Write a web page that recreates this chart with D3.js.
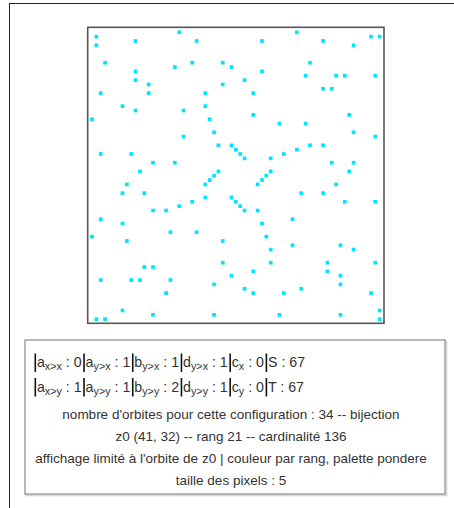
<!DOCTYPE html>
<html>
<head>
<meta charset="utf-8">
<script src="https://cdn.jsdelivr.net/npm/d3@7"></script>
<style>
  html, body { margin: 0; padding: 0; background: #fff; }
  svg { display: block; }
</style>
</head>
<body>
<script>
// ---- data ----
const gridSize = 67;            // S : 67, T : 67
const orbitCells = [
  [1,1],[1,3],[10,2],[20,0],[24,2],[3,7],[23,7],[30,7],[32,8],[19,8],[10,9],[10,11],[13,12],[30,12],
  [2,14],[13,14],[26,14],[7,17],[10,18],[21,18],[26,17],[0,20],[27,20],[28,23],[21,24],[29,26],[32,26],
  [33,27],[34,28],[2,28],[9,28],[14,30],[19,30],[11,32],[29,32],[28,33],[27,34],
  [47,0],[39,2],[53,2],[64,1],[66,1],[60,3],[50,7],[39,9],[49,10],[56,10],[58,10],[65,10],[35,11],
  [53,13],[55,13],[37,14],[37,19],[59,19],[43,21],[49,21],[60,23],[65,24],[50,26],[53,26],[47,27],
  [44,28],[41,29],[55,30],[60,30],[41,32],[59,32],[40,33],[39,34],[35,29],
  [26,35],[8,35],[7,37],[12,37],[26,38],[32,38],[33,39],[34,40],[23,39],[20,40],[14,41],[17,41],
  [2,43],[7,44],[18,46],[24,46],[0,47],[8,48],[30,48],[30,53],[12,54],[14,54],[2,57],[9,57],[11,57],
  [18,57],[32,56],[28,58],[17,60],[7,64],[14,65],[28,65],[1,66],[3,66],
  [38,35],[56,35],[48,37],[53,37],[35,41],[38,41],[58,39],[65,39],[39,44],[46,43],[40,47],[41,50],
  [46,49],[57,49],[60,50],[41,53],[54,53],[65,53],[37,55],[54,55],[57,56],[57,58],[35,59],[37,60],
  [44,60],[48,59],[64,60],[66,64],[43,65],[57,65],[66,66]
];
const paramRow1 = [["a","x>x","0"],["a","y>x","1"],["b","y>x","1"],["d","y>x","1"],["c","x","0"],["S","","67"]];
const paramRow2 = [["a","x>y","1"],["a","y>y","1"],["b","y>y","2"],["d","y>y","1"],["c","y","0"],["T","","67"]];
const infoLines = [
  "nombre d'orbites pour cette configuration : 34 -- bijection",
  "z0 (41, 32) -- rang 21 -- cardinalité 136",
  "affichage limité à l'orbite de z0 | couleur par rang, palette pondere",
  "taille des pixels : 5"
];

// ---- drawing ----
const W = 454, H = 508;
const font = "'Liberation Sans', Arial, Helvetica, sans-serif";
const svg = d3.select("body").append("svg").attr("width", W).attr("height", H);

// outer page frame (top + left lines)
svg.append("line").attr("x1", 9).attr("y1", 3.5).attr("x2", W).attr("y2", 3.5)
  .attr("stroke", "#222").attr("stroke-width", 1);
svg.append("line").attr("x1", 9.5).attr("y1", 3).attr("x2", 9.5).attr("y2", H)
  .attr("stroke", "#222").attr("stroke-width", 1);

// plot frame
const frame = {x: 87.7, y: 27.3, w: 296.3, h: 296};
svg.append("rect").attr("x", frame.x).attr("y", frame.y).attr("width", frame.w).attr("height", frame.h)
  .attr("fill", "#fff").attr("stroke", "#555").attr("stroke-width", 1.6);

const x = d3.scaleLinear().domain([0, gridSize - 1]).range([92, 379.7]);
const y = d3.scaleLinear().domain([0, gridSize - 1]).range([32.3, 319.2]);
const dot = 3.7;

svg.append("g").selectAll("rect").data(orbitCells).join("rect")
  .attr("x", d => x(d[0]) - dot / 2)
  .attr("y", d => y(d[1]) - dot / 2)
  .attr("width", dot).attr("height", dot)
  .attr("fill", "#00e5ff");

// info box
const box = {x: 25, y: 340, w: 420, h: 154};
svg.append("rect").attr("x", box.x + 1.5).attr("y", box.y + 1.5).attr("width", box.w).attr("height", box.h)
  .attr("fill", "none").attr("stroke", "#d4d4d4").attr("stroke-width", 1.5);
svg.append("rect").attr("x", box.x).attr("y", box.y).attr("width", box.w).attr("height", box.h)
  .attr("fill", "#fff").attr("stroke", "#8a8a8a").attr("stroke-width", 1.2);

const fs = 13.5, pfs = 14.2, subFs = 10.8;
const textColor = "#333";

function paramRow(items, baseline) {
  let cx = 35.3;
  items.forEach(([name, sub, val]) => {
    svg.append("line").attr("x1", cx).attr("x2", cx)
      .attr("y1", baseline - 13.5).attr("y2", baseline + 5)
      .attr("stroke", "#111").attr("stroke-width", 1.6);
    const t = svg.append("text").attr("x", cx + 1.6).attr("y", baseline)
      .attr("font-family", font).attr("font-size", pfs).attr("fill", textColor);
    t.append("tspan").text(name);
    if (sub) {
      t.append("tspan").attr("font-size", subFs).attr("dy", 3).text(sub);
      t.append("tspan").attr("dy", -3).text(" : " + val);
    } else {
      t.append("tspan").text(" : " + val);
    }
    const w = t.node().getComputedTextLength();
    cx = cx + 1.6 + w + 2.4;
  });
}
paramRow(paramRow1, 367);
paramRow(paramRow2, 391.5);

const lineY = d3.scaleLinear().domain([0, infoLines.length - 1]).range([418.5, 485]);
svg.append("g").selectAll("text").data(infoLines).join("text")
  .attr("x", 231)
  .attr("y", (d, i) => lineY(i))
  .attr("text-anchor", "middle")
  .attr("font-family", font).attr("font-size", fs).attr("fill", textColor)
  .text(d => d);
</script>
</body>
</html>
